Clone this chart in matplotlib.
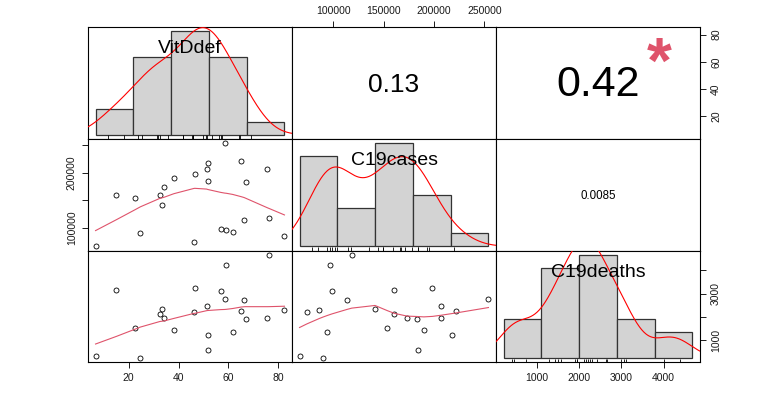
import numpy as np
import matplotlib.pyplot as plt
from matplotlib.transforms import offset_copy

plt.rcParams['font.family'] = ['Liberation Sans', 'DejaVu Sans']

names = ["VitDdef", "C19cases", "C19deaths"]
vitd = [6.7, 15.1, 22.5, 24.7, 32.5, 33.3, 34.1, 38.1, 46.1, 46.5, 51.3, 51.7,
        51.7, 56.9, 58.5, 59.2, 61.7, 65.2, 66.3, 66.9, 75.7, 76.4, 82.5]
cases = [66700, 160600, 153800, 90100, 160100, 141500, 173400, 190000, 74000, 198500, 207300, 218200,
         184200, 99000, 254000, 96800, 93500, 221600, 113600, 183100, 207300, 118500, 86300]
deaths = [288, 3176, 1532, 215, 2133, 2330, 1931, 1429, 2189, 3232, 2476, 1202,
          588, 3103, 2747, 4236, 1361, 2245, 2704, 1888, 1931, 4678, 2275]

# histogram breaks (R "FD" -> pretty)
breaks = [
    [0, 20, 40, 60, 80, 100],
    [50000, 100000, 150000, 200000, 250000, 300000],
    [0, 1000, 2000, 3000, 4000, 5000],
]

# upper panel texts: |r|, font size, y position, significance
cor_labels = {(0, 1): ("0.13", 19.0, 0.5, ""),
              (0, 2): ("0.42", 31.0, 0.525, "*"),
              (1, 2): ("0.0085", 8.3, 0.5, "")}

data = [np.array(vitd, float), np.array(cases, float), np.array(deaths, float)]

W, H = 778, 395
L, R, T, B = 88, 700, 27, 362.3
cw = (R - L) / 3
rh = (B - T) / 3


def pos(i, j):
    return [(L + j * cw) / W, 1 - (T + (i + 1) * rh) / H, cw / W, rh / H]


def lim(v):
    r = v.max() - v.min()
    return v.min() - 0.04 * r, v.max() + 0.04 * r


def lowess(x, y, f=2/3, iters=3):
    o = np.argsort(x, kind="stable")
    x = x[o]; y = y[o]
    n = len(x)
    ns = max(min(int(f * n + 1e-7), n), 2)
    rw = np.ones(n)
    ys = np.zeros(n)
    rng = x[-1] - x[0]
    for it in range(iters + 1):
        for i in range(n):
            d = np.abs(x - x[i])
            h = np.sort(d)[ns - 1]
            w = np.where(d <= 0.001 * h, 1.0,
                         np.where(d <= 0.999 * h, (1 - (d / max(h, 1e-300)) ** 3) ** 3, 0.0)) * rw
            if w.sum() <= 0:
                ys[i] = y[i]
                continue
            w = w / w.sum()
            if h > 0:
                a = np.sum(w * x)
                b = x[i] - a
                c = np.sum(w * (x - a) ** 2)
                if np.sqrt(c) > 0.001 * rng:
                    b = b / c
                    w = w * (b * (x - a) + 1)
            ys[i] = np.sum(w * y)
        if it == iters:
            break
        res = np.abs(y - ys)
        cmad = 6 * np.median(res)
        if cmad < 1e-7 * np.mean(np.abs(y)):
            break
        rw = np.where(res <= 0.001 * cmad, 1.0,
                      np.where(res <= 0.999 * cmad, (1 - (res / cmad) ** 2) ** 2, 0.0))
    return x, ys


def kde(v):
    n = len(v)
    iqr = np.percentile(v, 75) - np.percentile(v, 25)
    bw = 0.9 * min(v.std(ddof=1), iqr / 1.34) * n ** -0.2
    g = np.linspace(v.min() - 3 * bw, v.max() + 3 * bw, 512)
    dens = np.exp(-0.5 * ((g[:, None] - v[None, :]) / bw) ** 2).sum(1) / (n * bw * np.sqrt(2 * np.pi))
    return g, dens


fig = plt.figure(figsize=(W / 100, H / 100), dpi=100)
axes = [[None] * 3 for _ in range(3)]
tick_kw = dict(labelsize=7.5, length=4, width=0.7, pad=4, colors="#1a1a1a")
star_fs = 46

for i in range(3):
    for j in range(3):
        ax = fig.add_axes(pos(i, j))
        axes[i][j] = ax
        ax.set_xlim(lim(data[j]))
        ax.set_ylim(lim(data[i]))
        ax.set_xticks([]); ax.set_yticks([])
        for s in ax.spines.values():
            s.set_linewidth(0.8)
            s.set_color("black")
        if i > j:
            ax.plot(data[j], data[i], "o", ms=3.6, mfc="none", mec="black", mew=0.6)
            lx, ly = lowess(data[j], data[i])
            ax.plot(lx, ly, color="#DF536B", lw=0.8)
        elif i < j:
            txt, fs, ty, sig = cor_labels[(i, j)]
            ax.text(0.5, ty, txt, transform=ax.transAxes, ha="center", va="center_baseline",
                    fontsize=fs, color="black")
            if sig:
                tr = offset_copy(ax.transAxes, fig=fig, x=0, y=-0.495 * star_fs - 1.2, units="points")
                ax.text(0.8, 0.8, sig, transform=tr, ha="center", va="baseline",
                        fontsize=star_fs, fontweight="bold", color="#DF536B")

# histograms on the diagonal, each in its own coordinates
for k in range(3):
    ov = fig.add_axes(pos(k, k))
    ov.set_axis_off()
    ov.patch.set_alpha(0)
    br = np.array(breaks[k], float)
    dens, _ = np.histogram(data[k], bins=br, density=True)
    span = br[-1] - br[0]
    ov.set_xlim(br[0] - 0.04 * span, br[-1] + 0.04 * span)
    dmax = dens.max()
    ov.set_ylim(-0.04 * dmax, 1.04 * dmax)
    ov.bar(br[:-1], dens, width=np.diff(br), align="edge", color="#D3D3D3",
           edgecolor="#333333", linewidth=0.9)
    g, d = kde(data[k])
    ov.plot(g, d, color="red", lw=0.8)
    ov.vlines(data[k], 0, 0.03, transform=ov.get_xaxis_transform(), color="black", lw=0.6)
    ov.text(0.5, 0.825, names[k], transform=ov.transAxes, ha="center", va="center_baseline",
            fontsize=14, color="black", zorder=5)

# outer axes
ax = axes[2][0]
ax.set_xticks([20, 40, 60, 80])
ax.tick_params(axis="x", **tick_kw)

ax = axes[0][1]
ax.xaxis.tick_top()
ax.set_xticks([100000, 150000, 200000, 250000])
ax.tick_params(axis="x", **tick_kw)

ax = axes[2][2]
ax.set_xticks([1000, 2000, 3000, 4000])
ax.tick_params(axis="x", **tick_kw)
ax.yaxis.tick_right()
ax.set_yticks([1000, 2000, 3000, 4000])
ax.set_yticklabels(["1000", "", "3000", ""], rotation=90, va="center")
ax.tick_params(axis="y", **tick_kw)

ax = axes[0][2]
ax.yaxis.tick_right()
ax.set_yticks([20, 40, 60, 80])
ax.set_yticklabels(["20", "40", "60", "80"], rotation=90, va="center")
ax.tick_params(axis="y", **tick_kw)

ax = axes[1][0]
ax.set_yticks([100000, 150000, 200000, 250000])
ax.set_yticklabels(["100000", "", "200000", ""], rotation=90, va="center")
ax.tick_params(axis="y", **tick_kw)

fig.savefig("out.png", dpi=100)
